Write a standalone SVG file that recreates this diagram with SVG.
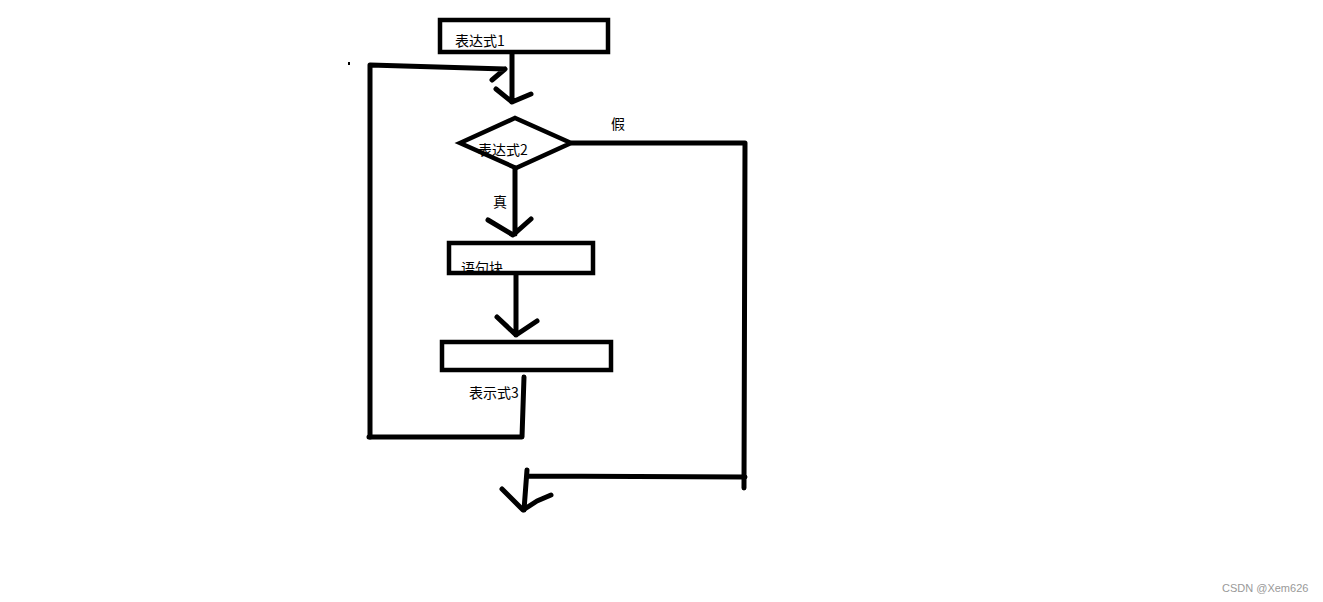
<svg xmlns="http://www.w3.org/2000/svg" width="1323" height="602" viewBox="0 0 1323 602">
<style>
.box{fill:none;stroke:#000;stroke-width:4.5}
.ln{fill:none;stroke:#000;stroke-width:5;stroke-linecap:round;stroke-linejoin:round}
.t{font-family:"Noto Sans CJK SC","Liberation Sans",sans-serif;font-size:14px;fill:#000}
.wm{font-family:"Liberation Sans",Arial,sans-serif;font-size:11px;fill:#999}
</style>
<rect width="1323" height="602" fill="#fff"/>
<g id="connectors">
<path class="ln" d="M512 53 L512 102 M496 89 L512 102 L531 94"/>
<rect x="348" y="62" width="2" height="3" fill="#000"/>
<path class="ln" d="M370 437 L370 65 L505 69 M505 69 L492 80"/>
<path class="ln" d="M515 168 L515 234 M488 220 L513 235 L531 219"/>
<path class="ln" d="M516 275 L516 335 M497 317 L516 335 L537 321"/>
<path class="ln" d="M524 377 L522 437 L369 437"/>
<path class="ln" d="M572 143 L745 143 L744 488"/>
<path class="ln" d="M745 477 L527 476 M527 470 L524 510"/>
<path class="ln" d="M502 489 L523 510 L537 501 L551 495"/>
</g>
<g id="node-expr1">
<rect class="box" x="440" y="20" width="168" height="32" fill="#fff"/>
<text class="t" x="455" y="46">表达式1</text>
</g>
<g id="node-expr2">
<polygon class="box" points="460,143 515,118 571,143 516,168" stroke-width="5"/>
<text class="t" x="478" y="155">表达式2</text>
</g>
<g id="node-block">
<text class="t" x="461" y="273">语句块</text>
<rect class="box" x="449" y="243" width="144" height="30"/>
</g>
<g id="node-expr3">
<rect class="box" x="442" y="342" width="169" height="28"/>
</g>
<g id="labels">
<text class="t" x="469" y="398">表示式3</text>
<text class="t" x="611" y="129">假</text>
<text class="t" x="493" y="207">真</text>
<text class="wm" x="1222" y="592">CSDN @Xem626</text>
</g>
</svg>
